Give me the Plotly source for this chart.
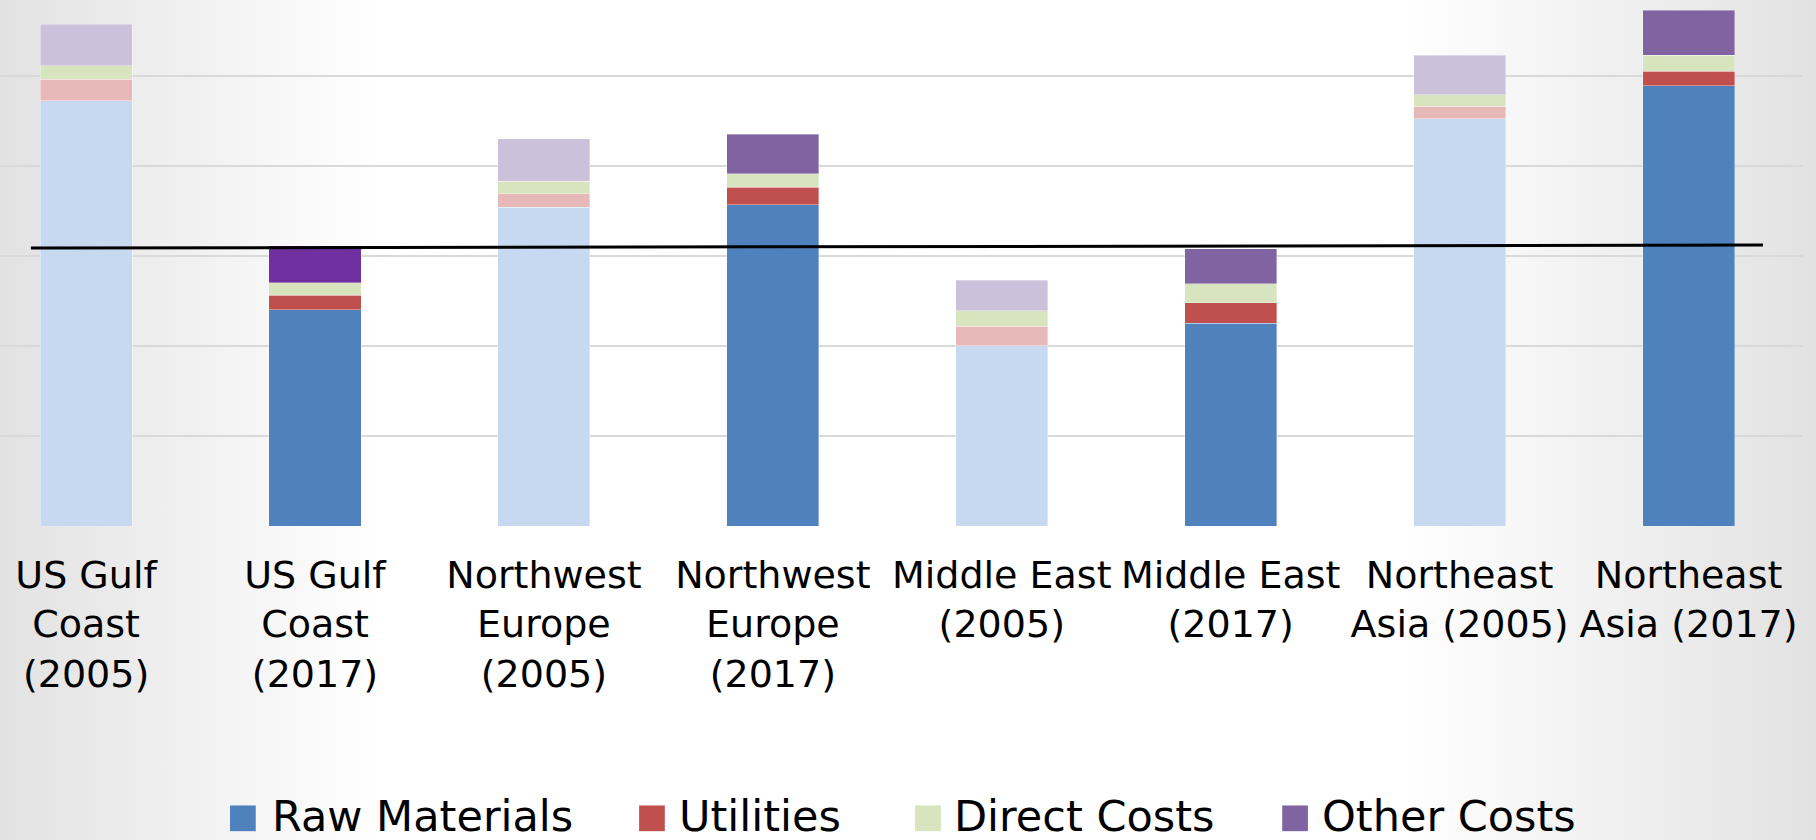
"""Coûts de production par région, 2005 vs 2017 (barres empilées)"""

import base64

import plotly.graph_objects as go

# catégories et valeurs (unités arbitraires, 100 par ligne de grille)
regions = [
    "US Gulf<br>Coast<br>(2005)",
    "US Gulf<br>Coast<br>(2017)",
    "Northwest<br>Europe<br>(2005)",
    "Northwest<br>Europe<br>(2017)",
    "Middle East<br>(2005)",
    "Middle East<br>(2017)",
    "Northeast<br>Asia (2005)",
    "Northeast<br>Asia (2017)",
]
years = [2005, 2017, 2005, 2017, 2005, 2017, 2005, 2017]

raw_materials = [472, 240, 354, 357, 200, 225, 452, 489]
utilities = [24, 16, 15, 19, 22, 23, 14, 16]
direct_costs = [15, 14, 14, 15, 17, 21, 13, 18]
other_costs = [46, 41, 47, 44, 34, 39, 44, 50]

# ligne de référence (en noir)
ref_x = [-0.241, 7.325]
ref_y = [308.6, 311.9]

series = {
    "Raw Materials": (raw_materials, "#4F81BD", "#C6D9F1"),
    "Utilities": (utilities, "#C0504D", "#E6B9B8"),
    "Direct Costs": (direct_costs, "#D7E4BD", "#D7E4BD"),
    "Other Costs": (other_costs, "#8064A2", "#CCC1DA"),
}

W, H = 1816, 840
plot_w, plot_h = 1802.7, 525.7
x_pos = list(range(len(regions)))

fig = go.Figure()
for name, (vals, dark, light) in series.items():
    colors = [dark if y == 2017 else light for y in years]
    if name == "Other Costs":
        colors[1] = "#7030A0"
    fig.add_trace(
        go.Bar(
            x=x_pos,
            y=vals,
            name=name,
            marker=dict(color=colors, line=dict(color="rgba(255,255,255,0.45)", width=0.8)),
            showlegend=False,
        )
    )

fig.add_trace(
    go.Scatter(
        x=ref_x, y=ref_y, mode="lines",
        line=dict(color="black", width=3), showlegend=False,
    )
)

# fond en dégradé horizontal (gris -> blanc -> gris)
svg = (
    '<svg xmlns="http://www.w3.org/2000/svg" width="1816" height="840" preserveAspectRatio="none">'
    '<defs><linearGradient id="g" x1="0" y1="0" x2="1" y2="0">'
    '<stop offset="0" stop-color="#e2e2e2"/>'
    '<stop offset="0.21" stop-color="#ffffff"/>'
    '<stop offset="0.77" stop-color="#ffffff"/>'
    '<stop offset="1" stop-color="#e2e2e2"/>'
    '</linearGradient></defs>'
    '<rect width="1816" height="840" fill="url(#g)"/></svg>'
)
svg_uri = "data:image/svg+xml;base64," + base64.b64encode(svg.encode()).decode()

fig.add_layout_image(
    source=svg_uri, xref="paper", yref="paper",
    x=0, y=1, sizex=W / plot_w, sizey=H / plot_h,
    xanchor="left", yanchor="top", sizing="stretch", layer="below",
)

# légende dessinée à la main (carrés + texte)
legend_items = [
    ("Raw Materials", "#4F81BD", 230, 270),
    ("Utilities", "#C0504D", 639, 677),
    ("Direct Costs", "#D7E4BD", 915, 952),
    ("Other Costs", "#8064A2", 1282, 1320),
]
for label, color, sq_x, txt_x in legend_items:
    fig.add_shape(
        type="rect", xref="paper", yref="paper",
        x0=sq_x / plot_w, x1=(sq_x + 25.7) / plot_w,
        y0=(plot_h - 805) / plot_h, y1=(plot_h - 830.7) / plot_h,
        fillcolor=color, line=dict(width=0),
    )
    fig.add_annotation(
        text=label, xref="paper", yref="paper",
        x=txt_x / plot_w, y=(plot_h - 816) / plot_h,
        xanchor="left", yanchor="middle", showarrow=False,
        font=dict(size=43, color="black", family="DejaVu Sans"),
    )

fig.update_layout(
    width=W,
    height=H,
    barmode="stack",
    bargap=0.598,
    margin=dict(l=0, r=W - plot_w, t=0, b=H - plot_h, pad=0),
    paper_bgcolor="white",
    plot_bgcolor="rgba(0,0,0,0)",
    font=dict(family="DejaVu Sans", color="black"),
    xaxis=dict(
        range=[-0.376, 7.5],
        tickvals=x_pos,
        ticktext=regions,
        tickfont=dict(size=38, color="black"),
        showgrid=False,
        zeroline=False,
        showline=False,
        ticks="",
        ticklabelstandoff=23,
    ),
    yaxis=dict(
        range=[0, 584.1],
        dtick=100,
        showticklabels=False,
        gridcolor="#d9d9d9",
        gridwidth=2,
        zeroline=False,
        showline=False,
    ),
)

# pas de marge autour de la figure dans la page
fig.write_html(
    "out.html",
    config={"displayModeBar": False},
    post_script="document.body.style.margin='0';",
)
